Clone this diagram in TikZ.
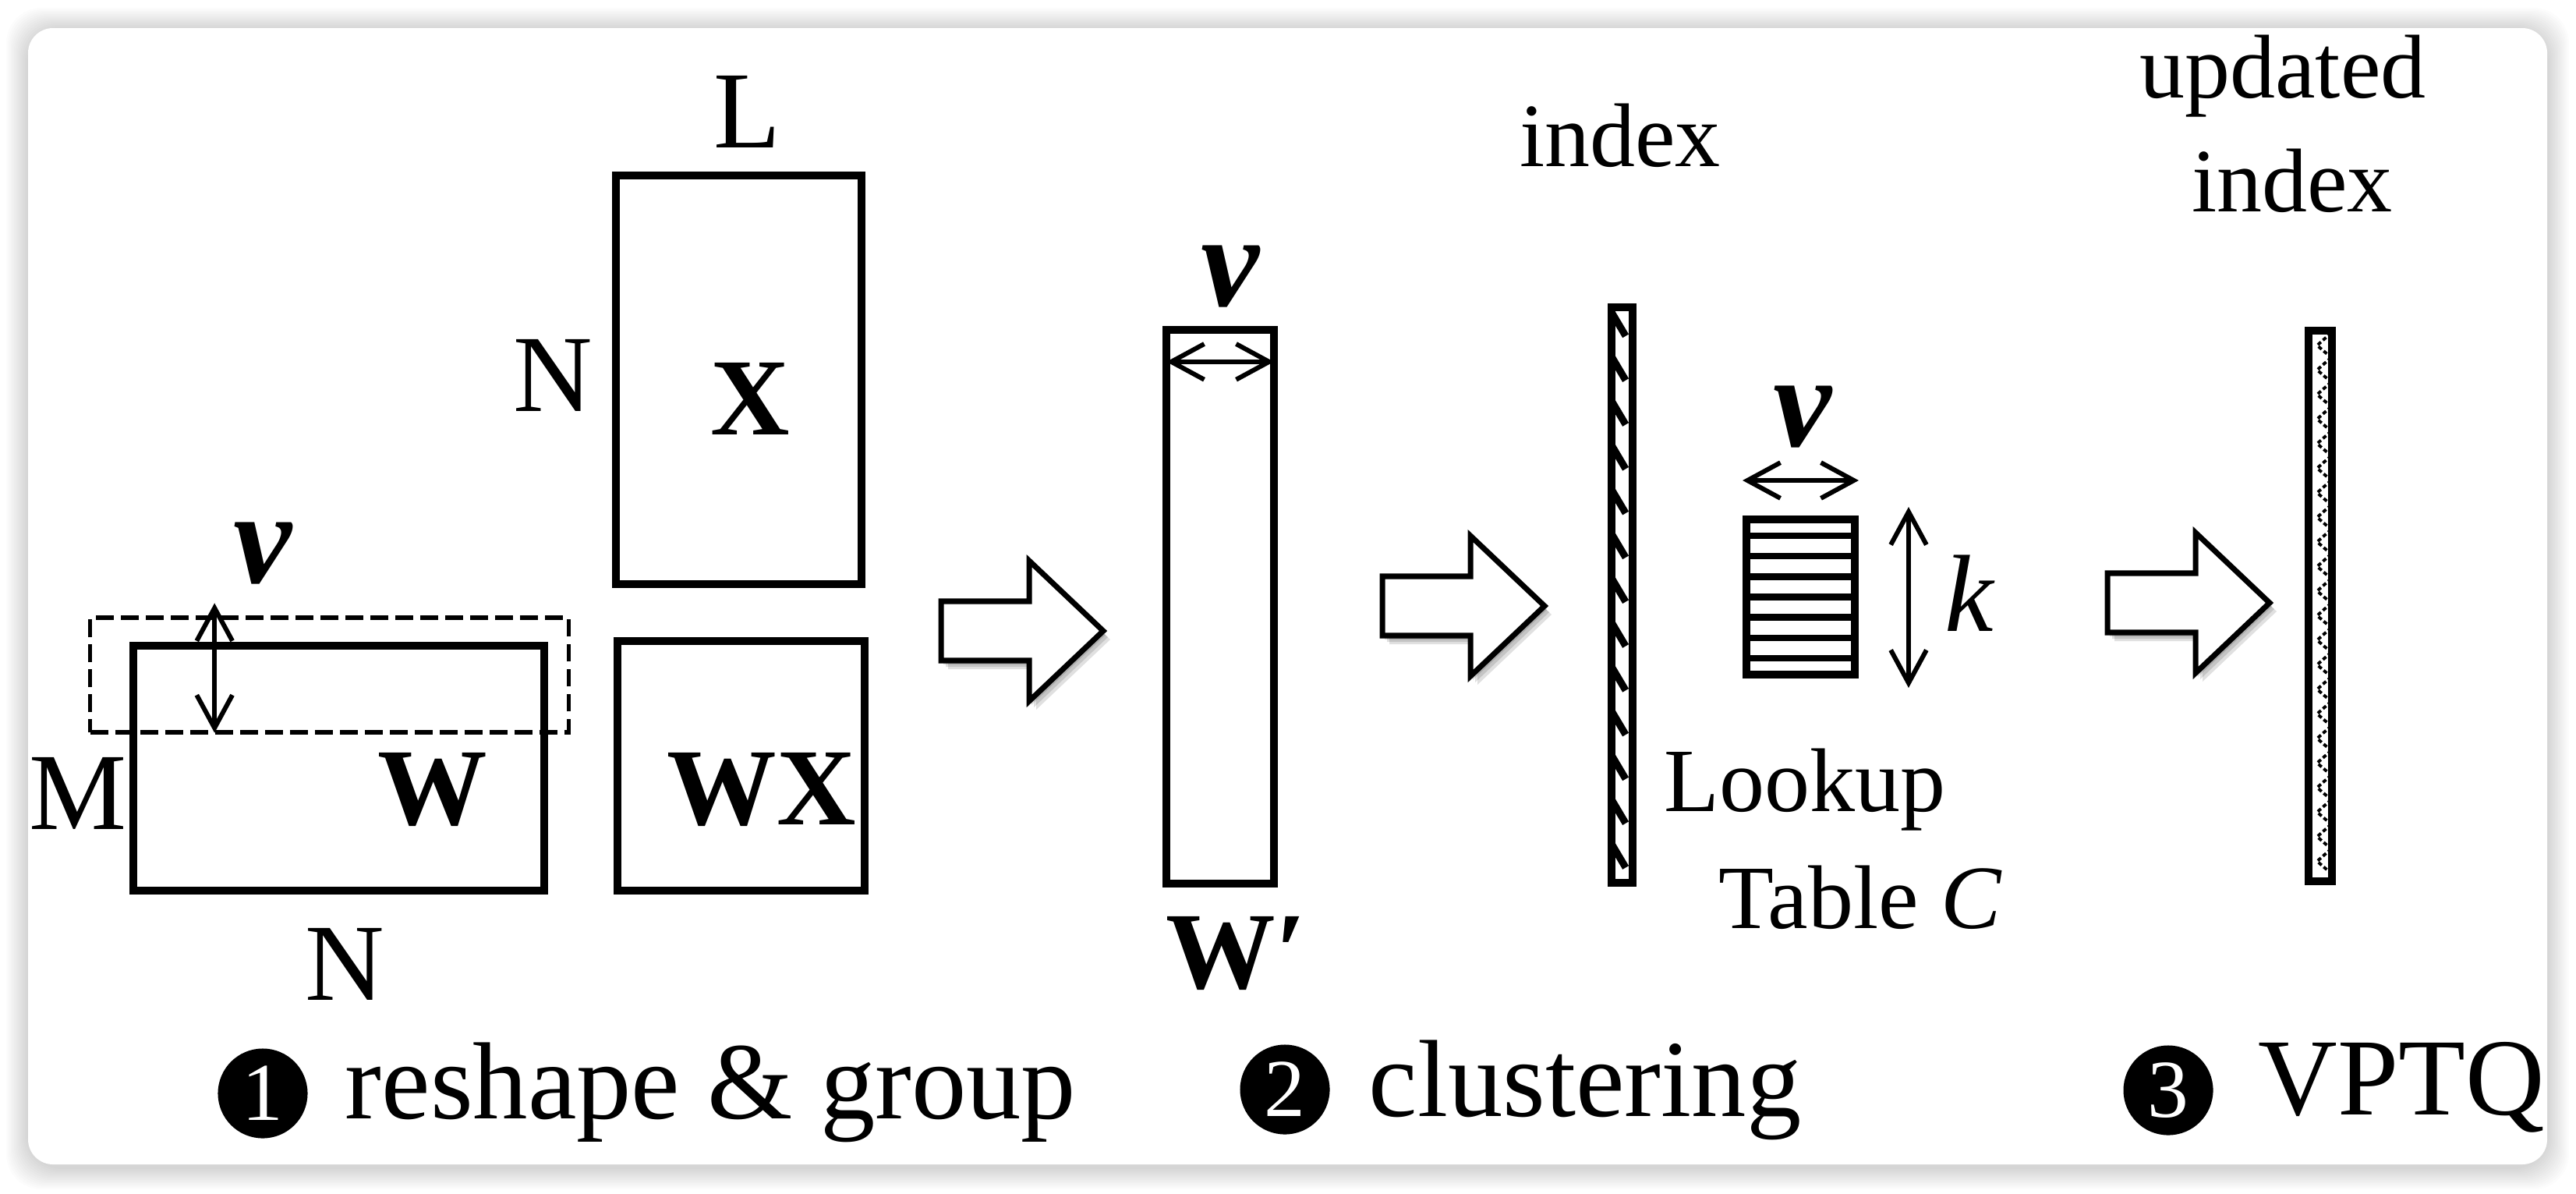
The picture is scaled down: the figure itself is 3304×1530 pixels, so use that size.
\documentclass[tikz,border=0pt]{standalone}
\usepackage{amsmath,amssymb}
\usepackage{fontspec}
\setmainfont{Liberation Serif}
\usetikzlibrary{positioning,calc,arrows.meta}

\begin{document}
\begin{tikzpicture}[
    x=0.01cm, y=-0.01cm,
    font=\fontsize{40}{41}\selectfont,
    mat/.style={draw, line width=2.8pt, inner sep=0pt},
    grpbox/.style={draw, line width=1.5pt, dash pattern=on 6.5pt off 2.6pt, inner sep=0pt},
    lbl/.style={inner sep=0pt},
    bold/.style={inner sep=0pt, font=\fontsize{40}{41}\selectfont\bfseries},
    small/.style={inner sep=0pt, font=\fontsize{33}{34}\selectfont},
    vlbl/.style={inner sep=0pt, font=\fontsize{48}{48}\selectfont\bfseries\itshape},
    dim/.style={{Straight Barb[length=12pt,width=13pt]}-{Straight Barb[length=12pt,width=13pt]},
                line width=1.7pt, line cap=round},
    numdot/.style={circle, fill=black, text=white, minimum size=1.15cm, inner sep=0pt,
                   font=\fontsize{30}{30}\selectfont},
    stage/.style={draw, line width=2pt, fill=white},
    shade/.style={fill=black, opacity=0.12},
    zig/.style={line width=1.1pt, dash pattern=on 1.5pt off 1pt}
]
\useasboundingbox (0,0) rectangle (3304,1530);

% Panel with soft shadow
\foreach \g in {1,...,14}
  \fill[black, opacity=0.013, rounded corners=0.45cm] (36-2*\g,38-2*\g) rectangle (3267+2*\g,1497+2*\g);
\fill[white, rounded corners=0.32cm] (36,36) rectangle (3267,1493);

% Step 1: matrices
\node[mat, minimum width=3.15cm, minimum height=5.24cm] (xmat) at (947.5,487) {};
\node[mat, minimum width=5.27cm, minimum height=3.14cm] (wmat) at (434.5,985) {};
\node[mat, minimum width=3.17cm, minimum height=3.2cm] (wxmat) at (950.5,982) {};
\node[grpbox, minimum width=6.13cm, minimum height=1.47cm] (grp) at (422.5,865.5) {};

\node[lbl] (lblL) at (958,143) {L};
\node[lbl] (lblN1) at (709,481) {N};
\node[bold] (lblX) at (962,511) {X};
\node[vlbl] (lblv1) at (337,710) {v};
\node[lbl] (lblM) at (100,1017) {M};
\node[bold] (lblW) at (555,1012) {W};
\node[bold] (lblWX) at (977,1012) {WX};
\node[lbl] (lblN2) at (442,1236) {N};
\draw[dim] ($(grp.north west)+(162,-16)$) -- ($(grp.south west)+(162,-2)$);

% Reshaped weight
\node[mat, minimum width=1.38cm, minimum height=7.1cm] (wcol) at (1565,778) {};
\node[vlbl] (lblv2) at (1578,355) {v};
\node[bold, anchor=base] (lblWp) at (1586,1267) {W′};
\draw[dim] ($(wcol.north west)+(5,46)$) -- ($(wcol.north east)+(-5,46)$);

% Step 2: index and lookup table
\node[mat, minimum width=0.27cm, minimum height=7.38cm] (idx) at (2080.5,763) {};
\foreach \i in {0,...,12}
  \draw[line width=2.6pt] ($(idx.north west)+(4,10+56.8*\i)$) -- ++(19,32);
\node[small, anchor=base] (lblidx) at (2078,213) {index};

\node[mat, minimum width=1.39cm, minimum height=1.99cm] (lut) at (2309.5,765.5) {};
\foreach \i in {1,...,7}
  \draw[line width=2.4pt] ($(lut.north west)!\i/8!(lut.south west)$) -- ($(lut.north east)!\i/8!(lut.south east)$);
\node[vlbl] (lblv3) at (2312,535) {v};
\node[lbl] (lblk) at (2527,761) {\textit{k}};
\draw[dim] ($(lut.north west)+(0,-45)$) -- ($(lut.north east)+(0,-45)$);
\draw[dim] ($(lut.north east)+(64,-11)$) -- ($(lut.south east)+(64,12)$);
\node[small, anchor=base west] (lbllook) at (2134,1040) {Lookup};
\node[small, anchor=base west] (lbltab) at (2204,1190) {Table \textit{C}};

% Step 3: updated index
\node[mat, minimum width=0.30cm, minimum height=7.06cm] (upd) at (2976,777) {};
\foreach \i in {0,...,21}
  \draw[zig] ($(upd.north east)+(-6,8+31.5*\i)$) -- ++(-18,16) -- ++(18,15.5);
\node[small, anchor=base] (lblupd) at (2928,125) {updated};
\node[small, anchor=base] (lblupdidx) at (2940,271) {index};

% Stage arrows
\foreach \ax/\ay in {1207/809, 1773/777, 2703/773} {
  \foreach \s in {3,6,9}
    \fill[shade, shift={(\s,\s+2)}] (\ax,\ay-38) -- ++(113,0) -- ++(0,-52) -- ++(95,90)
      -- ++(-95,90) -- ++(0,-52) -- ++(-113,0) -- cycle;
  \draw[stage] (\ax,\ay-38) -- ++(113,0) -- ++(0,-52) -- ++(95,90)
      -- ++(-95,90) -- ++(0,-52) -- ++(-113,0) -- cycle;
}

% Step captions
\node[numdot] (num1) at (337,1402) {1};
\node[lbl, anchor=base west] (step1) at (442,1434) {reshape \& group};
\node[numdot] (num2) at (1648,1397) {2};
\node[lbl, anchor=base west] (step2) at (1755,1431) {clustering};
\node[numdot] (num3) at (2781,1398) {3};
\node[lbl, anchor=base west] (step3) at (2896,1429) {VPTQ};

\end{tikzpicture}
\end{document}
